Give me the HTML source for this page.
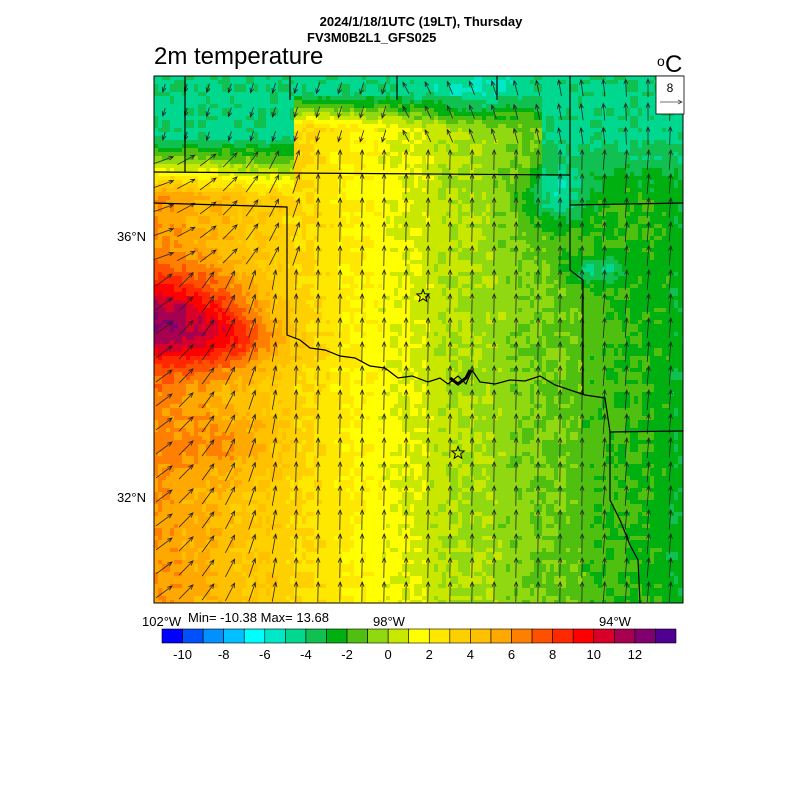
<!DOCTYPE html>
<html><head><meta charset="utf-8"><style>
html,body{margin:0;padding:0;background:#fff;}
svg{display:block;font-family:"Liberation Sans",sans-serif;}
</style></head><body>
<svg id="s" width="800" height="800" xmlns="http://www.w3.org/2000/svg">
<text x="421" y="26" font-size="13" font-weight="bold" text-anchor="middle">2024/1/18/1UTC (19LT), Thursday</text>
<text x="307" y="42" font-size="13" font-weight="bold">FV3M0B2L1_GFS025</text>
<text x="154" y="64" font-size="24">2m temperature</text>
<text x="657" y="66" font-size="14">o</text><text x="665" y="72" font-size="24">C</text>
<g id="field"></g>
<g id="arrows" stroke="#222" stroke-width="0.8" fill="none"></g>
<g stroke="#000" stroke-width="1.2" fill="none">
<path d="M154 172 L570 175"/>
<path d="M185 76 L185 172"/><path d="M290 76 L290 100"/><path d="M397 76 L397 100"/><path d="M497 76 L497 100"/>
<path d="M154 203 L287 207 L287 335 L300 340 L310 348 L325 350 L340 356 L355 358 L370 366 L385 368 L398 378 L412 376 L428 382 L440 378 L448 384 L458 376 L466 384 L472 370 L480 382 L495 384 L510 380 L525 381 L540 376 L555 385 L570 390 L585 395 L605 398"/>
<path d="M570 76 L570 270 L583 280 L583 395"/>
<path d="M570 205 L683 203"/>
<path d="M605 398 L610 432 L610 500 L620 520 L630 545 L638 560 L640 603"/>
<path d="M610 432 L683 431"/>
</g>
<path d="M450 378 L458 384 L466 378 L470 370" stroke="#000" stroke-width="3" fill="none"/>
<rect x="154" y="76" width="529" height="527" fill="none" stroke="#000" stroke-width="1"/>
<rect x="656" y="76" width="28" height="38" fill="#fff" stroke="#000" stroke-width="0.8"/>
<text x="670" y="92" font-size="12" text-anchor="middle">8</text>
<path d="M660 102 L682 102 M678 100 L682 102 L678 104" stroke="#444" stroke-width="0.8" fill="none"/>
<polygon id="st1" fill="none" stroke="#000" stroke-width="1"/>
<polygon id="st2" fill="none" stroke="#000" stroke-width="1"/>
<text x="146" y="241" font-size="13" text-anchor="end">36°N</text>
<text x="146" y="502" font-size="13" text-anchor="end">32°N</text>
<text x="142" y="626" font-size="13">102°W</text>
<text x="188" y="622" font-size="13">Min= -10.38 Max= 13.68</text>
<text x="373" y="626" font-size="13">98°W</text>
<text x="599" y="626" font-size="13">94°W</text>
<g id="cbar"></g>
</svg>
<script>
var NS="http://www.w3.org/2000/svg";
var cols=["#0000ff","#0050ff","#0090ff","#00c0ff","#00ffff","#00e8c8","#00d890","#10c050","#00b010","#50c010","#90d810","#c8e800","#ffff00","#ffe800","#ffd000","#ffc000","#ffa800","#ff8000","#ff5000","#ff2800","#ff0000","#d80028","#a80050","#800070","#500090"];
function el(t,a,p){var e=document.createElementNS(NS,t);for(var k in a)e.setAttribute(k,a[k]);p.appendChild(e);return e;}
function h(a,b){var s=Math.sin(a*127.1+b*311.7)*43758.5453;return s-Math.floor(s);}
function T(x,y){
 var t=x<450?6-(x-154)*0.02:0.1-(x-450)*0.012;
 t+=6*Math.exp(-(((x-170)/75)**2+((y-320)/45)**2));
 t+=2*Math.exp(-(((x-240)/50)**2+((y-340)/25)**2));
 t+=1.5*Math.exp(-(((x-220)/60)**2+((y-440)/30)**2));
 var n=Math.min(1,Math.max(0,(195-y)/60));
 if(x>290&&x<540) n=Math.min(1,Math.max(0,(125-y)/35));
 t=t*(1-n)+(-4.3)*n;
 t-=3.5*Math.exp(-(((x-555)/35)**2+((y-195)/30)**2));
 t-=2.5*Math.exp(-(((x-595)/30)**2+((y-268)/15)**2));
 t-=1*Math.exp(-(((x-470)/40)**2+((y-95)/25)**2));
 t+=(h(Math.floor(x/6),Math.floor(y/6))-0.5)*1.1;
 return t;}
var f=document.getElementById("field");
for(var y=76;y<603;y+=4)for(var x=154;x<683;x+=4){
 var t=T(x,y);var i=Math.floor(t)+11;i=Math.max(0,Math.min(24,i));
 el("rect",{x:x,y:y,width:Math.min(4.3,683-x),height:Math.min(4.3,603-y),fill:cols[i]},f);}
var a=document.getElementById("arrows");
for(var y=88;y<600;y+=24)for(var x=164;x<680;x+=22){
 var ang,L;
 if(y<150){ang=x<400?Math.PI*0.5+0.3:-Math.PI*0.5+ (x-400)*0.002-0.5; L=8+ (x-154)*0.02;}
 else if(x<300){var w=(300-x)/146;ang=-Math.PI/2+w*1.0+(y<280?0.3:0);L=20;}
 else{ang=-Math.PI/2+((x>600)?0.08:0.02);L=20;}
 var dx=Math.cos(ang)*L,dy=Math.sin(ang)*L;
 var x1=x-dx/2,y1=y-dy/2,x2=x+dx/2,y2=y+dy/2;
 var ha=Math.atan2(dy,dx);
 var hx1=x2-5*Math.cos(ha-0.4),hy1=y2-5*Math.sin(ha-0.4),hx2=x2-5*Math.cos(ha+0.4),hy2=y2-5*Math.sin(ha+0.4);
 el("path",{d:"M"+x1+" "+y1+"L"+x2+" "+y2+"M"+hx1+" "+hy1+"L"+x2+" "+y2+"L"+hx2+" "+hy2},a);}
function star(id,cx,cy){var p=[];for(var k=0;k<10;k++){var r=k%2?2.8:6.5,an=-Math.PI/2+k*Math.PI/5;p.push((cx+r*Math.cos(an)).toFixed(1)+","+(cy+r*Math.sin(an)).toFixed(1));}document.getElementById(id).setAttribute("points",p.join(" "));}
star("st1",423,296);star("st2",458,453);
var c=document.getElementById("cbar");var w=514/25;
for(var i=0;i<25;i++)el("rect",{x:162+i*w,y:629,width:w,height:14,fill:cols[i],stroke:"#000","stroke-width":0.6},c);
for(var i=0;i<12;i++){var v=-10+2*i;var t=el("text",{x:162+(1+2*i)*w,y:659,"font-size":13,"text-anchor":"middle"},c);t.textContent=v;}
</script>
</body></html>
